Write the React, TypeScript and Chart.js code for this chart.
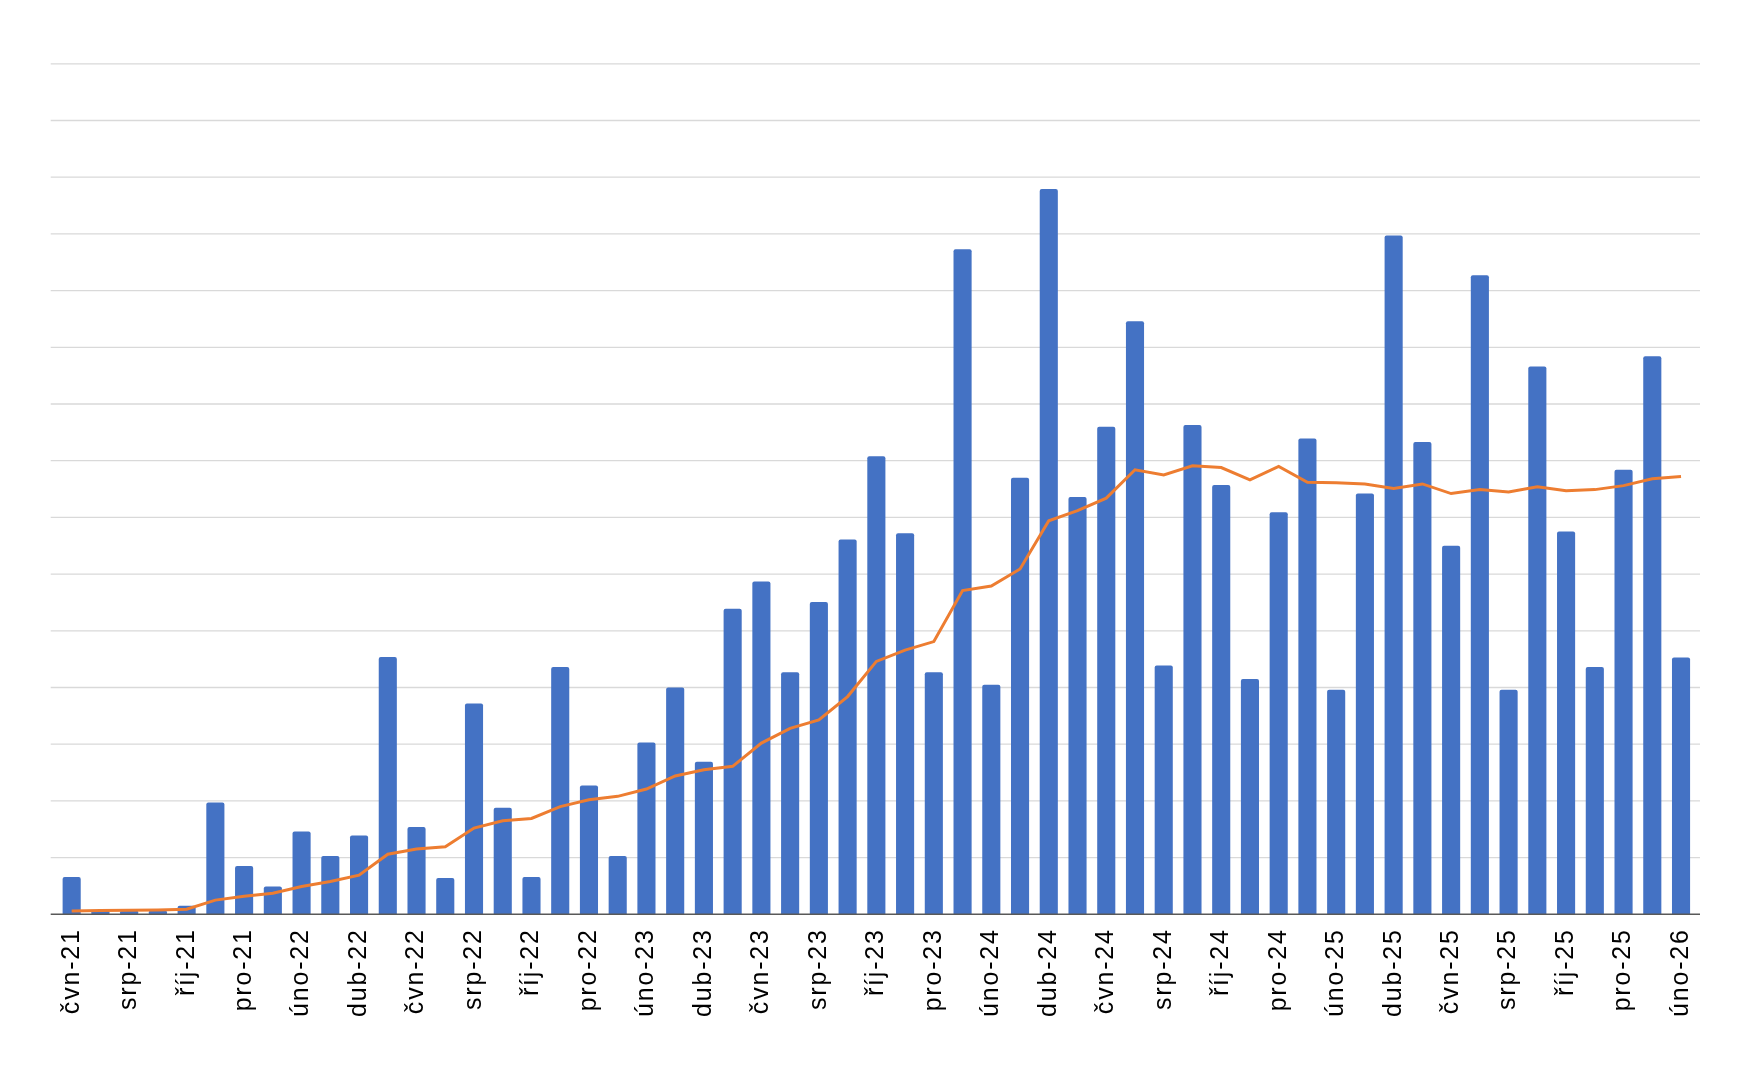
import { useEffect, useRef } from "react";
import { Chart, registerables } from "chart.js";
Chart.register(...registerables);

// months Jun 2021 .. Feb 2026 (Czech abbreviations)
const months = [
  "čvn-21", "čvc-21", "srp-21", "zář-21", "říj-21", "lis-21", "pro-21",
  "led-22", "úno-22", "bře-22", "dub-22", "kvě-22", "čvn-22", "čvc-22", "srp-22", "zář-22", "říj-22", "lis-22", "pro-22",
  "led-23", "úno-23", "bře-23", "dub-23", "kvě-23", "čvn-23", "čvc-23", "srp-23", "zář-23", "říj-23", "lis-23", "pro-23",
  "led-24", "úno-24", "bře-24", "dub-24", "kvě-24", "čvn-24", "čvc-24", "srp-24", "zář-24", "říj-24", "lis-24", "pro-24",
  "led-25", "úno-25", "bře-25", "dub-25", "kvě-25", "čvn-25", "čvc-25", "srp-25", "zář-25", "říj-25", "lis-25", "pro-25",
  "led-26", "úno-26",
];

// monthly values (bars)
const monthly = [
  0.66, 0.07, 0.07, 0.07, 0.15, 1.97, 0.85,
  0.49, 1.46, 1.03, 1.39, 4.54, 1.54, 0.64, 3.72, 1.88, 0.66, 4.36, 2.27,
  1.03, 3.03, 4.0, 2.69, 5.39, 5.87, 4.27, 5.51, 6.61, 8.08, 6.72, 4.27,
  11.73, 4.05, 7.7, 12.79, 7.36, 8.6, 10.46, 4.39, 8.63, 7.57, 4.15, 7.09,
  8.39, 3.96, 7.42, 11.97, 8.33, 6.5, 11.27, 3.96, 9.66, 6.75, 4.36, 7.84,
  9.84, 4.53,
];

// trend line (orange)
const trend = [
  0.06, 0.065, 0.07, 0.075, 0.09, 0.25, 0.32,
  0.37, 0.49, 0.58, 0.69, 1.06, 1.15, 1.19, 1.52, 1.65, 1.69, 1.9, 2.02,
  2.08, 2.21, 2.44, 2.55, 2.61, 3.02, 3.28, 3.43, 3.84, 4.46, 4.66, 4.81,
  5.71, 5.79, 6.09, 6.94, 7.12, 7.34, 7.84, 7.75, 7.91, 7.88, 7.66, 7.9,
  7.62, 7.61, 7.59, 7.51, 7.59, 7.42, 7.49, 7.45, 7.54, 7.47, 7.49, 7.56,
  7.68, 7.72,
];

const yMax = 15;

// gridlines + axis line a bit wider than the category band, like the original
const gridPlugin = {
  id: "excelGrid",
  beforeUpdate(chart: any) {
    chart.ctx.letterSpacing = "1.8px";
  },
  beforeDraw(chart: any) {
    chart.ctx.letterSpacing = "1.8px";
  },
  beforeDatasetsDraw(chart: any) {
    const { ctx, chartArea, scales } = chart;
    const left = chartArea.left - 6.6;
    const right = chartArea.right + 4.6;
    ctx.save();
    ctx.strokeStyle = "#d9d9d9";
    ctx.lineWidth = 1.3;
    for (let v = 1; v <= yMax; v++) {
      const y = scales.y.getPixelForValue(v);
      ctx.beginPath();
      ctx.moveTo(left, y);
      ctx.lineTo(right, y);
      ctx.stroke();
    }
    ctx.restore();
  },
  afterDatasetsDraw(chart: any) {
    const { ctx, chartArea, scales } = chart;
    const y = scales.y.getPixelForValue(0);
    ctx.save();
    ctx.strokeStyle = "#595959";
    ctx.lineWidth = 1.6;
    ctx.beginPath();
    ctx.moveTo(chartArea.left - 6.6, y);
    ctx.lineTo(chartArea.right + 4.6, y);
    ctx.stroke();
    ctx.restore();
  },
};

const ComboChart = () => {
  const canvasRef = useRef<HTMLCanvasElement>(null);

  useEffect(() => {
    const canvas = canvasRef.current;
    if (!canvas) return;
    const chart = new Chart(canvas, {
      type: "bar",
      data: {
        labels: months,
        datasets: [
          {
            type: "line",
            data: trend,
            borderColor: "#ED7D31",
            borderWidth: 3,
            pointRadius: 0,
            tension: 0,
            order: 0,
          },
          {
            type: "bar",
            data: monthly,
            backgroundColor: "#4472C4",
            barPercentage: 0.63,
            categoryPercentage: 1,
            borderRadius: 2,
            order: 1,
          },
        ],
      } as any,
      options: {
        animation: false,
        responsive: true,
        maintainAspectRatio: false,
        layout: { padding: { left: 57.3, right: 64.6, top: 63.8, bottom: 0 } },
        plugins: { legend: { display: false }, tooltip: { enabled: false } },
        scales: {
          x: {
            offset: true,
            grid: { display: false, drawTicks: false },
            border: { display: false },
            ticks: {
              autoSkip: false,
              maxRotation: 90,
              minRotation: 90,
              padding: 14,
              color: "#000",
              font: { family: "'Liberation Sans', Arial, sans-serif", size: 25 },
              callback: (_v: any, i: number) => (i % 2 === 0 ? months[i] : ""),
            },
            afterFit: (scale: any) => {
              scale.height = 170.7;
            },
          },
          y: {
            display: false,
            min: 0,
            max: yMax,
            ticks: { stepSize: 1 },
          },
        },
      },
      plugins: [gridPlugin],
    });
    return () => chart.destroy();
  }, []);

  return (
    <div style={{ position: "fixed", left: 0, top: 0, width: 1760, height: 1085, background: "#fff" }}>
      <canvas ref={canvasRef}></canvas>
    </div>
  );
};

export default function App() {
  return <ComboChart />;
}
